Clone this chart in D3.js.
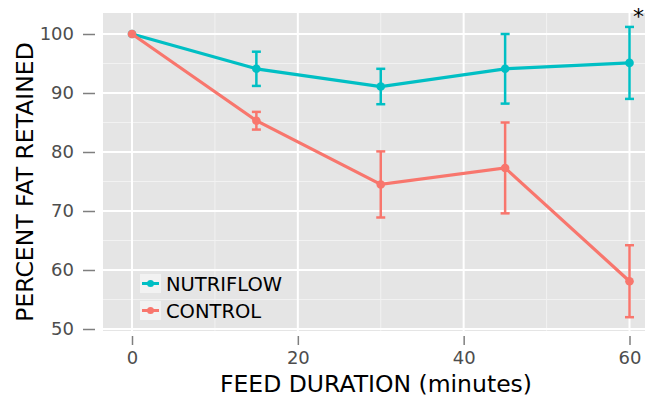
<!DOCTYPE html>
<html>
<head>
<meta charset="utf-8">
<script src="https://cdn.jsdelivr.net/npm/d3@7"></script>
<style>
  body { margin: 0; background: #fff; }
  text { font-family: "DejaVu Sans", sans-serif; }
</style>
</head>
<body>
<div id="chart"></div>
<script>
// Data
const times = [0, 15, 30, 45, 60];
const nutriflow = [100, 94.1, 91.1, 94.1, 95.1];
const nutriflowErr = [0, 2.9, 3.0, 5.9, 6.1];
const control = [100, 85.3, 74.5, 77.3, 58.1];
const controlErr = [0, 1.5, 5.6, 7.7, 6.1];
const xTicks = [0, 20, 40, 60];
const yTicks = [50, 60, 70, 80, 90, 100];

const series = [
    {name: "NUTRIFLOW", values: nutriflow, err: nutriflowErr, color: "#00BFC4"},
    {name: "CONTROL", values: control, err: controlErr, color: "#F8766D"}
];

const W = 645, H = 398;
const panel = {left: 103, right: 645, top: 13, bottom: 331};

const svg = d3.select("#chart").append("svg")
    .attr("width", W).attr("height", H);

// Scales
const x = d3.scaleLinear().domain([0, 60]).range([132, 629.5]);
const y = d3.scaleLinear().domain([50, 100]).range([329, 34]);

// Panel background
svg.append("rect")
   .attr("x", panel.left).attr("y", panel.top)
   .attr("width", panel.right - panel.left)
   .attr("height", panel.bottom - panel.top)
   .attr("fill", "#E5E5E5");

// Minor grid
const grid = svg.append("g");
[10, 30, 50].forEach(v => {
    grid.append("line")
        .attr("x1", x(v)).attr("x2", x(v))
        .attr("y1", panel.top).attr("y2", panel.bottom)
        .attr("stroke", "#F2F2F2").attr("stroke-width", 1);
});
[55, 65, 75, 85, 95].forEach(v => {
    grid.append("line")
        .attr("x1", panel.left).attr("x2", panel.right)
        .attr("y1", y(v)).attr("y2", y(v))
        .attr("stroke", "#F2F2F2").attr("stroke-width", 1);
});
// Major grid
xTicks.forEach(v => {
    grid.append("line")
        .attr("x1", x(v)).attr("x2", x(v))
        .attr("y1", panel.top).attr("y2", panel.bottom)
        .attr("stroke", "#FFFFFF").attr("stroke-width", 2);
});
yTicks.forEach(v => {
    grid.append("line")
        .attr("x1", panel.left).attr("x2", panel.right)
        .attr("y1", y(v)).attr("y2", y(v))
        .attr("stroke", "#FFFFFF").attr("stroke-width", 2);
});

// Axes
const yAxis = svg.append("g")
    .attr("transform", "translate(95,0)")
    .call(d3.axisLeft(y).tickValues(yTicks).tickSize(12).tickPadding(9));
const xAxis = svg.append("g")
    .attr("transform", "translate(0,336)")
    .call(d3.axisBottom(x).tickValues(xTicks).tickSize(9).tickPadding(6));
[yAxis, xAxis].forEach(a => {
    a.select(".domain").remove();
    a.selectAll(".tick line").attr("stroke", "#7F7F7F").attr("stroke-width", 1.5);
    a.selectAll(".tick text").attr("fill", "#4D4D4D")
        .style("font-size", "18px").style("font-family", "'DejaVu Sans', sans-serif");
});

// Series lines, error bars, points
const line = d3.line()
    .x((d, i) => x(times[i]))
    .y(d => y(d));

series.forEach(s => {
    const g = svg.append("g");
    g.append("path")
     .datum(s.values)
     .attr("d", line)
     .attr("fill", "none")
     .attr("stroke", s.color)
     .attr("stroke-width", 3.2);

    s.values.forEach((v, i) => {
        if (s.err[i] > 0) {
            const cx = x(times[i]);
            const y0 = y(v - s.err[i]), y1 = y(v + s.err[i]);
            g.append("line").attr("x1", cx).attr("x2", cx)
             .attr("y1", y0).attr("y2", y1)
             .attr("stroke", s.color).attr("stroke-width", 2.5);
            [y0, y1].forEach(yy => {
                g.append("line").attr("x1", cx - 4.5).attr("x2", cx + 4.5)
                 .attr("y1", yy).attr("y2", yy)
                 .attr("stroke", s.color).attr("stroke-width", 2.5);
            });
        }
        g.append("circle")
         .attr("cx", x(times[i])).attr("cy", y(v))
         .attr("r", 4.3)
         .attr("fill", s.color);
    });
});

// Legend
const legend = svg.selectAll(".legend")
    .data(series)
    .enter()
    .append("g")
    .attr("transform", (d, i) => `translate(140, ${274 + i * 27})`);

legend.append("rect")
    .attr("width", 21).attr("height", 19)
    .attr("fill", "#F2F2F2");
legend.append("line")
    .attr("x1", 2).attr("x2", 19).attr("y1", 9.5).attr("y2", 9.5)
    .attr("stroke", d => d.color).attr("stroke-width", 3);
legend.append("circle")
    .attr("cx", 10.5).attr("cy", 9.5).attr("r", 3.5)
    .attr("fill", d => d.color);
legend.append("text")
    .attr("x", 26).attr("y", 16.5)
    .style("font-size", "19.5px")
    .attr("fill", "#000")
    .text(d => d.name);

// Axis titles
svg.append("text")
   .attr("x", 376).attr("y", 392)
   .attr("text-anchor", "middle")
   .style("font-size", "23.5px")
   .attr("fill", "#000")
   .text("FEED DURATION (minutes)");

svg.append("text")
   .attr("transform", "translate(33,182) rotate(-90)")
   .attr("text-anchor", "middle")
   .style("font-size", "23.5px")
   .attr("fill", "#000")
   .text("PERCENT FAT RETAINED");

// Significance mark
svg.append("text")
   .attr("x", 633).attr("y", 24)
   .style("font-size", "22px")
   .attr("fill", "#000")
   .text("*");
</script>
</body>
</html>
